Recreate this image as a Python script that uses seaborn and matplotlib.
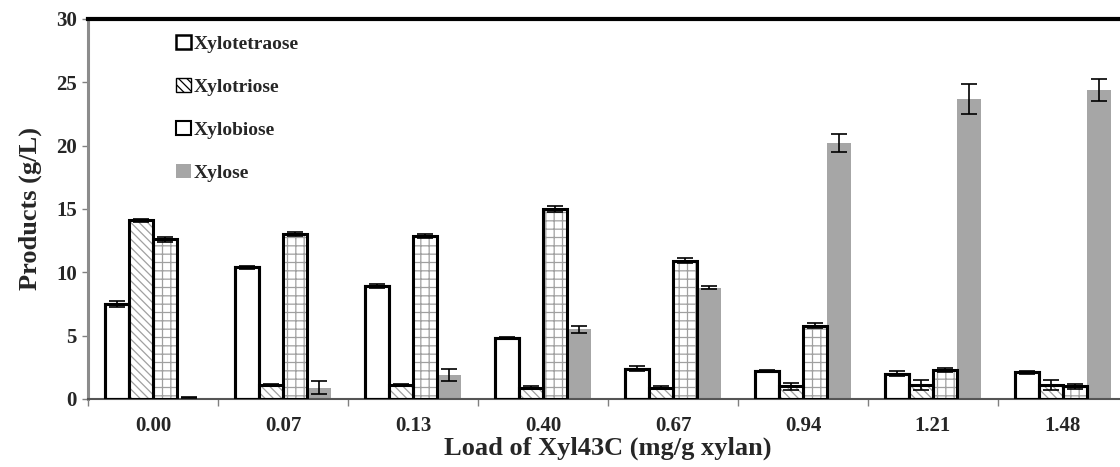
import numpy as np
import pandas as pd
import matplotlib
matplotlib.use("Agg")
import matplotlib.pyplot as plt
from matplotlib.patches import Rectangle, Patch
import seaborn as sns

loads = ["0.00", "0.07", "0.13", "0.40", "0.67", "0.94", "1.21", "1.48"]
products = ["Xylotetraose", "Xylotriose", "Xylobiose", "Xylose"]

xylotetraose = [7.5, 10.4, 8.9, 4.8, 2.4, 2.2, 2.0, 2.1]
xylotriose = [14.1, 1.1, 1.1, 0.9, 0.9, 1.0, 1.1, 1.1]
xylobiose = [12.6, 13.0, 12.9, 15.0, 10.9, 5.8, 2.3, 1.0]
xylose = [0.1, 0.9, 1.9, 5.5, 8.8, 20.2, 23.7, 24.4]

err_xylotetraose = [0.2, 0.1, 0.15, 0.1, 0.2, 0.1, 0.2, 0.15]
err_xylotriose = [0.1, 0.1, 0.1, 0.1, 0.1, 0.3, 0.4, 0.4]
err_xylobiose = [0.2, 0.15, 0.15, 0.2, 0.2, 0.2, 0.15, 0.2]
err_xylose = [0.05, 0.5, 0.5, 0.3, 0.1, 0.7, 1.2, 0.9]

values = [xylotetraose, xylotriose, xylobiose, xylose]
errors = [err_xylotetraose, err_xylotriose, err_xylobiose, err_xylose]

rows = []
for p, vals, errs in zip(products, values, errors):
    for l, v, e in zip(loads, vals, errs):
        rows.append({"Load": l, "Product": p, "Value": v, "Err": e})
df = pd.DataFrame(rows)

sns.set_style("ticks")
plt.rcParams["font.family"] = ["Liberation Serif", "DejaVu Serif"]
plt.rcParams["font.weight"] = "bold"
plt.rcParams["hatch.linewidth"] = 0.9

fig = plt.figure(figsize=(11.2, 4.67), dpi=100)
ax = fig.add_axes([88 / 1120, 68 / 467, 1040 / 1120, 380 / 467])

gray_fill = "#a6a6a6"
hatch_gray = "#a0a0a0"
sns.barplot(data=df, x="Load", y="Value", hue="Product", order=loads,
            hue_order=products, width=0.74, errorbar=None, ax=ax,
            palette=["white", "white", "white", gray_fill], legend=False)

n = len(loads)
patches = list(ax.patches)
hatches = [None, "\\\\\\\\", "++", None]
for i, p in enumerate(products):
    for j in range(n):
        patch = patches[i * n + j]
        x0, w = patch.get_x(), patch.get_width()
        h = patch.get_height()
        if i == 3:
            patch.set_facecolor(gray_fill)
            patch.set_edgecolor(gray_fill)
            patch.set_linewidth(0)
        else:
            patch.set_facecolor("white")
            if hatches[i]:
                patch.set_hatch(hatches[i])
                patch.set_edgecolor(hatch_gray)
                patch.set_linewidth(0)
            else:
                patch.set_edgecolor("black")
                patch.set_linewidth(2.2)
            ax.add_patch(Rectangle((x0, 0), w, h, fill=False,
                                   edgecolor="black", linewidth=2.2, zorder=3))
        ax.errorbar(x0 + w / 2, h, yerr=errors[i][j], fmt="none",
                    ecolor="black", elinewidth=1.2, capsize=6, capthick=1.2,
                    zorder=4)

ax.set_ylim(0, 30)
ax.set_yticks(range(0, 31, 5))
ax.set_xlim(-0.5, n - 0.5)
ax.set_xticks(range(n))
ax.set_xticklabels(loads)
ax.set_xticks(np.arange(-0.5, n, 1), minor=True)
ax.tick_params(axis="x", which="major", length=0, pad=12, labelsize=15)
ax.tick_params(axis="x", which="minor", length=5, color="#808080", width=1)
ax.tick_params(axis="y", length=4, color="#808080", width=1, labelsize=15, pad=4)
for lab in ax.get_xticklabels() + ax.get_yticklabels():
    lab.set_fontweight("bold")

ax.spines["top"].set_color("black")
ax.spines["top"].set_linewidth(3)
ax.spines["left"].set_color("#8c8c8c")
ax.spines["left"].set_linewidth(2.2)
ax.spines["bottom"].set_color("#555555")
ax.spines["bottom"].set_linewidth(1.5)
ax.spines["right"].set_visible(False)

ax.set_xlabel("Load of Xyl43C (mg/g xylan)", fontsize=19, fontweight="bold", labelpad=1)
ax.set_ylabel("Products (g/L)", fontsize=19, fontweight="bold", labelpad=10)

handles = [
    Patch(facecolor="white", edgecolor="black", linewidth=1.8),
    Patch(facecolor="white", edgecolor="black", linewidth=1.0, hatch="\\\\\\\\"),
    Patch(facecolor="white", edgecolor="black", linewidth=1.5, hatch="|"),
    Patch(facecolor=gray_fill, edgecolor=gray_fill, linewidth=0),
]
leg = ax.legend(handles, products, loc="upper left", bbox_to_anchor=(0.068, 1.005),
                frameon=False, handlelength=0.75, handleheight=0.75,
                handletextpad=0.15, labelspacing=1.3,
                prop={"family": "Liberation Serif", "weight": "bold", "size": 14})

fig.savefig("out.png", dpi=100)
